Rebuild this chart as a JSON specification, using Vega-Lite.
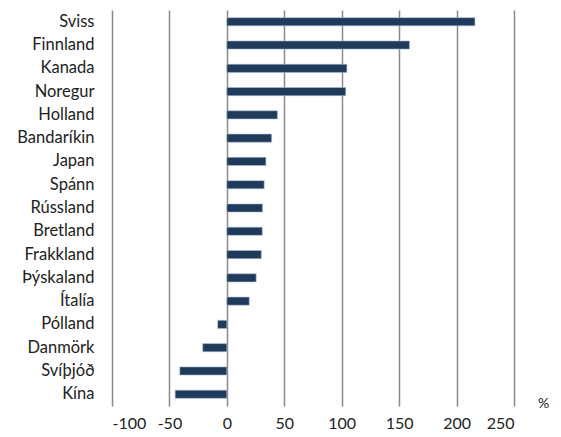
{
  "$schema": "https://vega.github.io/schema/vega-lite/v6.json",
  "autosize": "none",
  "width": 402,
  "height": 396,
  "padding": {"left": 112, "top": 10, "right": 47, "bottom": 31},
  "background": "white",
  "data": {"values": [
    {"land": "Sviss", "v": 216},
    {"land": "Finnland", "v": 159},
    {"land": "Kanada", "v": 104.5},
    {"land": "Noregur", "v": 103.5},
    {"land": "Holland", "v": 44},
    {"land": "Bandaríkin", "v": 39},
    {"land": "Japan", "v": 34},
    {"land": "Spánn", "v": 32.5},
    {"land": "Rússland", "v": 31},
    {"land": "Bretland", "v": 30.8},
    {"land": "Frakkland", "v": 30},
    {"land": "Þýskaland", "v": 25.5},
    {"land": "Ítalía", "v": 19.5},
    {"land": "Pólland", "v": -8},
    {"land": "Danmörk", "v": -21},
    {"land": "Svíþjóð", "v": -41},
    {"land": "Kína", "v": -45}
  ]},
  "mark": {"type": "bar", "color": "#1f3a5a", "stroke": "#a9bdd6", "strokeWidth": 0.6},
  "encoding": {
    "y": {
      "field": "land", "type": "nominal", "sort": null,
      "scale": {"paddingInner": 0.65, "paddingOuter": 0.33},
      "axis": {"title": null, "domain": false, "ticks": false, "labelPadding": 18,
               "labelFont": "Lato", "labelFontSize": 16.5, "labelColor": "#222"}
    },
    "x": {
      "field": "v", "type": "quantitative",
      "scale": {"domain": [-100, 250], "nice": false, "zero": false},
      "axis": {"values": [-100, -50, 0, 50, 100, 150, 200, 250], "domain": false, "ticks": false,
               "labelExpr": "'' + datum.value",
               "grid": true, "gridColor": "#8a8a8a", "gridWidth": 1.5,
               "labelPadding": 9, "labelFont": "Lato", "labelFontSize": 16, "labelColor": "#222",
               "title": "%", "titleX": 431, "titleY": -3, "titleAlign": "center", "titleBaseline": "middle",
               "titleFont": "Lato", "titleFontSize": 14, "titleFontWeight": "normal", "titleColor": "#222"}
    }
  },
  "config": {"view": {"stroke": null}}
}
